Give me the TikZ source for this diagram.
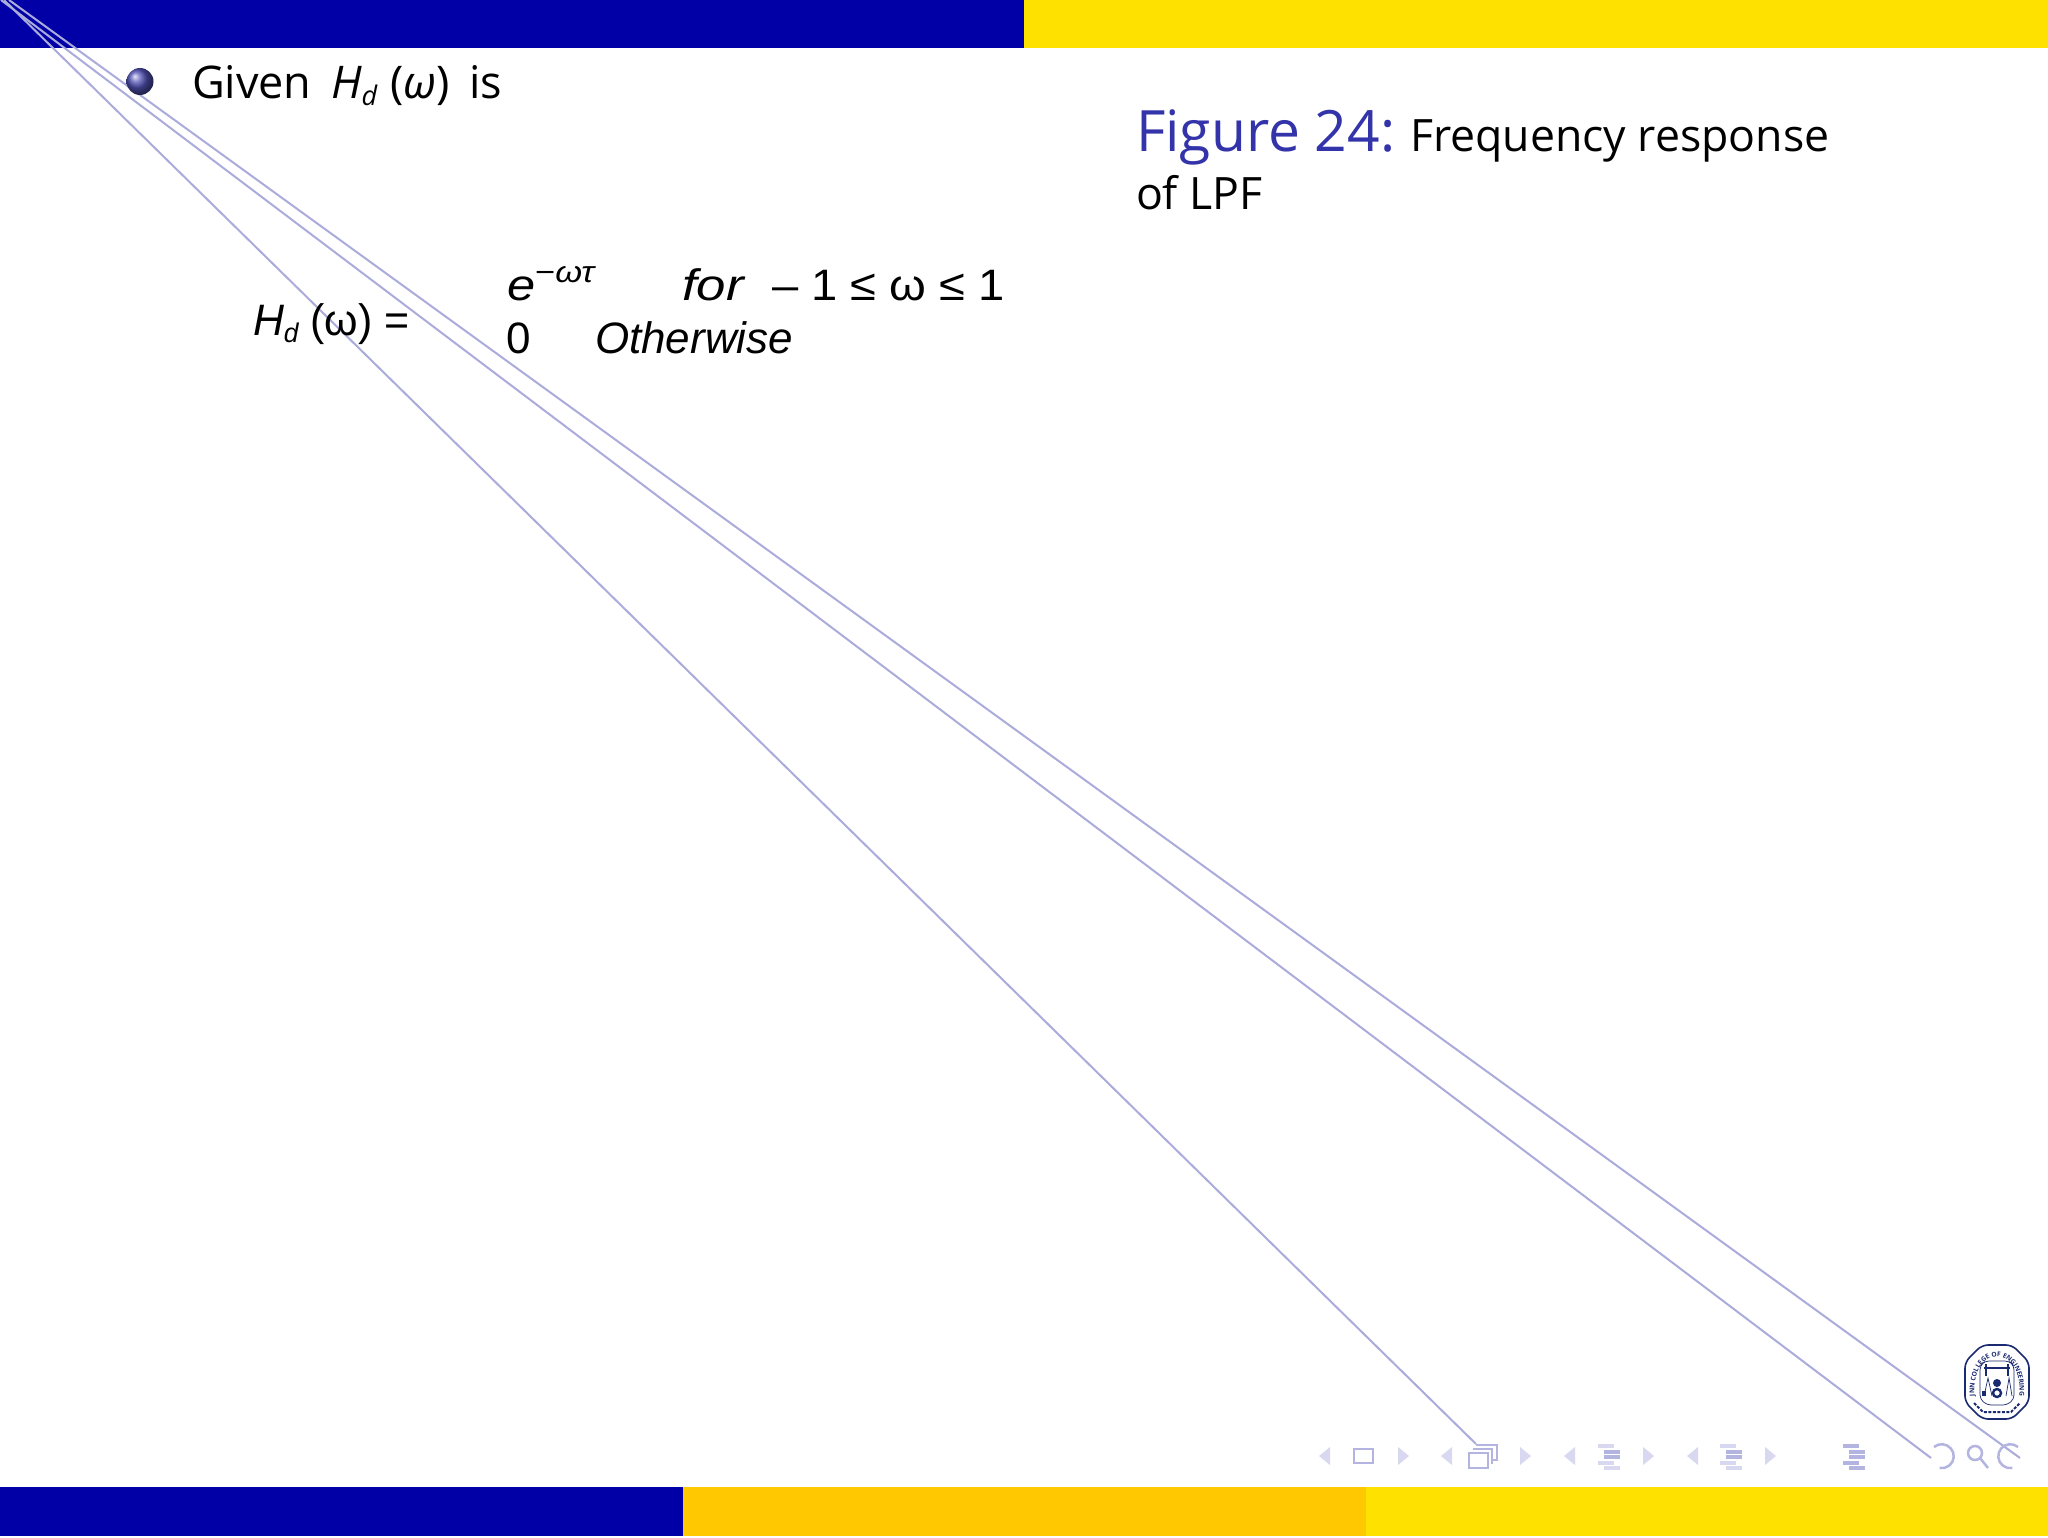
\documentclass[tikz,border=0pt]{standalone}
\usepackage{fontspec}
\setmainfont{Open Sans}
\newfontfamily\arialfont{Liberation Sans}
\usetikzlibrary{positioning,decorations.text}
\definecolor{barblue}{HTML}{0000A6}
\definecolor{baryellow}{HTML}{FFE100}
\definecolor{barorange}{HTML}{FFC800}
\definecolor{linklav}{HTML}{ABABDC}
\definecolor{navdark}{HTML}{B4B4E0}
\definecolor{navlight}{HTML}{D8D8F0}
\definecolor{figblue}{HTML}{3333AA}
\definecolor{logonavy}{HTML}{1A2A70}
\newcommand{\navbars}[2]{
  \fill[#2] (#1,1444) rectangle ++(16,3.5);
  \fill[navdark] (#1+6,1450) rectangle ++(16,3.5);
  \fill[navdark] (#1+6,1455) rectangle ++(16,3.5);
  \fill[#2] (#1,1461) rectangle ++(16,3.5);
  \fill[#2] (#1+6,1466) rectangle ++(16,3.5);
}
\begin{document}
\begin{tikzpicture}[x=1pt,y=-1pt,
  every node/.style={inner sep=0pt,outer sep=0pt},
  slide text/.style={font=\fontsize{45}{50}\selectfont},
  caption text/.style={font=\fontsize{44.6}{50}\selectfont},
  formula text/.style={font=\fontsize{44}{50}\selectfont\arialfont},
  link line/.style={draw=linklav,line width=2pt},
  nav line/.style={draw=navdark,line width=2.5pt}]
  \useasboundingbox (0,0) rectangle (2048,1538);
  \fill[white] (0,0) rectangle (2048,1538);
  % bars
  \fill[barblue] (0,0) rectangle (1024,48);
  \fill[baryellow] (1024,0) rectangle (2048,48);
  \fill[barblue] (0,1487) rectangle (683,1536);
  \fill[barorange] (683,1487) rectangle (1366,1536);
  \fill[baryellow] (1366,1487) rectangle (2048,1536);
  % link lines
  \coordinate (startframes) at (4,0);
  \coordinate (startback) at (1,0);
  \coordinate (startfwd) at (9,0);
  \coordinate (endframes) at (1476,1444);
  \coordinate (endback) at (1931,1458);
  \coordinate (endfwd) at (2020,1458);
  \draw[link line] (startframes) -- (endframes);
  \draw[link line] (startback) -- (endback);
  \draw[link line] (startfwd) -- (endfwd);
  % bullet
  \shade[ball color=figblue!85!white] (140,81.5) circle (13.5pt);
  % left text
  \node[slide text,anchor=base west] (given) at (192,98.5) {Given};
  \node[slide text,anchor=base west] (hd) at (331,98.5) {\itshape H\raisebox{-7pt}{\fontsize{27}{27}\selectfont d}};
  \node[slide text,anchor=base west] (omega) at (390,98.5) {(\itshape ω\upshape)};
  \node[slide text,anchor=base west] (is) at (469,98.5) {is};
  % formula
  \node[formula text,anchor=base west] (hdleft) at (253,335) {\scalebox{.975}[1]{\itshape H\raisebox{-7pt}{\fontsize{27}{27}\selectfont d}\upshape\ (ω) =}};
  \node[formula text,anchor=base west] (expo) at (507,301) {\scalebox{1.15}[1]{\itshape e\raisebox{18pt}{\fontsize{30}{30}\selectfont\upshape −\itshape ωτ}}};
  \node[formula text,anchor=base west] (for) at (682,301) {\scalebox{1.2}[1]{\itshape for}};
  \node[formula text,anchor=base west] (range) at (772,301) {\scalebox{1.07}[1]{– 1 ≤ ω ≤ 1}};
  \node[formula text,anchor=base west] (zero) at (506,353) {0};
  \node[formula text,anchor=base west] (other) at (595,353) {\itshape Otherwise};
  % caption
  \node[anchor=base west,font=\fontsize{57}{60}\selectfont,text=figblue] (fig) at (1136,152) {Figure 24:};
  \node[caption text,anchor=base west] (freq) at (1410,152) {Frequency response};
  \node[caption text,anchor=base west] (lpf) at (1136,210) {of LPF};
  % navigation symbols
  \foreach \x/\c in {1330/navlight,1452/navlight,1575/navlight,1698/navlight}
    \fill[\c] (\x,1447) -- (\x,1465) -- (\x-11,1456) -- cycle;
  \foreach \x/\c in {1398/navlight,1520/navlight,1643/navlight,1765/navlight}
    \fill[\c] (\x,1447) -- (\x,1465) -- (\x+11,1456) -- cycle;
  \draw[nav line] (1354,1449) rectangle (1373,1463);
  \draw[nav line] (1476,1445) -- (1497,1445) -- (1497,1460) -- (1491,1460);
  \draw[nav line] (1473,1449) -- (1492,1449) -- (1492,1464);
  \draw[nav line,fill=white] (1469,1453) rectangle (1488,1468);
  \navbars{1598}{navlight}
  \navbars{1720}{navlight}
  \navbars{1843}{navdark}
  \draw[nav line] (1934,1447) arc (130:-100:12pt);
  \draw[nav line] (1975,1453) circle (7pt);
  \draw[nav line] (1980,1458) -- (1988,1468);
  \draw[nav line] (2018,1447) arc (50:280:12pt);
  % college logo
  \draw[logonavy,line width=1.6pt,rounded corners=6pt,fill=white] (1982,1345) -- (2012,1345) -- (2029,1362) -- (2029,1402) -- (2012,1419) -- (1982,1419) -- (1965,1402) -- (1965,1362) -- cycle;
  \draw[logonavy,line width=.7pt,rounded corners=4pt] (1985,1361) -- (2009,1361) -- (2014,1366) -- (2014,1399) -- (2007,1405) -- (1987,1405) -- (1980,1399) -- (1980,1366) -- cycle;
  \path[postaction={decorate},decoration={text along path,text align=center,
    text={|\fontsize{6.6}{7}\selectfont\bfseries\color{logonavy}|JNN COLLEGE OF ENGINEERING}}]
    (1975,1400) .. controls (1968,1342) and (2026,1342) .. (2019,1400);
  \draw[logonavy,line width=1.2pt] (1984,1368) -- (2010,1368) (1986,1364) -- (1986,1376) (2008,1364) -- (2008,1376);
  \draw[logonavy,line width=.7pt] (1984,1396) -- (1988,1378) -- (1992,1396) (2006,1396) -- (2009,1378) -- (2012,1396);
  \fill[logonavy] (1997,1383) circle (4pt);
  \draw[logonavy,line width=2.4pt] (1997,1393) circle (4pt);
  \fill[logonavy] (1982,1391) rectangle (1986,1396);
  \draw[logonavy,line width=2pt,dash pattern=on 3pt off 1.5pt] (1974,1403) -- (1983,1412) -- (2011,1412) -- (2020,1403);
\end{tikzpicture}
\end{document}
